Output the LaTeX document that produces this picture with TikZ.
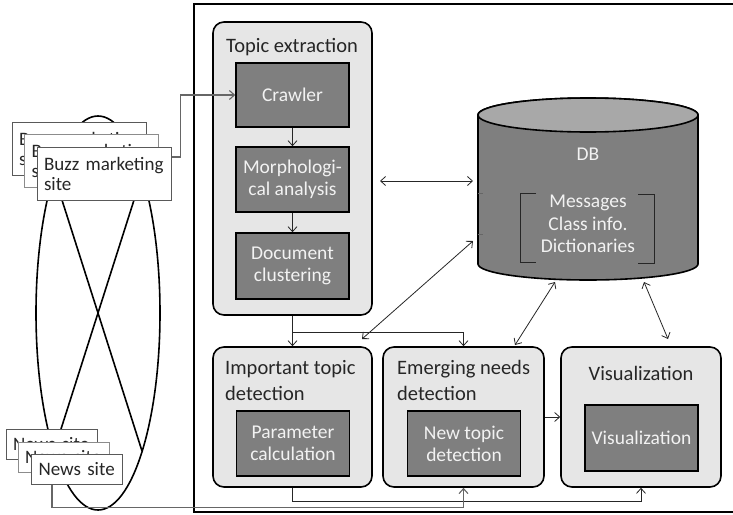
\documentclass[tikz,border=0pt]{standalone}
\usepackage{fontspec}
\setmainfont{Carlito}
\usetikzlibrary{arrows.meta}
\definecolor{lightfill}{RGB}{230,230,230}
\definecolor{darkfill}{RGB}{127,127,127}
\definecolor{dbtop}{RGB}{168,168,168}
\definecolor{txtdark}{RGB}{38,38,38}
\definecolor{txtlight}{RGB}{242,242,242}
\begin{document}
\begin{tikzpicture}[x=1pt,y=-1pt,
  container/.style={draw=black, line width=1.6pt, fill=lightfill, rounded corners=11pt, inner sep=0pt},
  inbox/.style={draw=black, line width=1.6pt, fill=darkfill, inner sep=0pt, text=txtlight,
    font=\fontsize{19.5}{22}\selectfont, align=center, minimum width=113pt, minimum height=65pt},
  title/.style={text=txtdark, font=\fontsize{20.5}{26}\selectfont, inner sep=0pt, align=left},
  buzzbox/.style={fill=white, line width=1pt, inner xsep=7pt, inner ysep=0pt, text=txtdark,
    font=\fontsize{19}{20}\selectfont, align=left, text width=120pt, minimum width=134pt, minimum height=53pt},
  newsbox/.style={fill=white, line width=1pt, inner xsep=7pt, inner ysep=0pt, text=txtdark,
    font=\fontsize{19}{20}\selectfont, align=left, text width=77pt, minimum width=91pt, minimum height=30pt},
  dbtext/.style={text=txtlight, font=\fontsize{19.5}{22.5}\selectfont, align=center, inner sep=0pt},
  tip/.tip={Straight Barb[length=5pt,width=9pt]},
  arr/.style={-tip, line width=0.8pt, draw=black!85},
  darr/.style={tip-tip, line width=0.8pt, draw=black!85},
  sitelink/.style={-tip, line width=1.1pt, draw=black!60},
]
\useasboundingbox (0,0) rectangle (733,514);

% outer frame (its right side lies beyond the picture)
\draw[line width=2.4pt] (760,4) -- (194,4) -- (194,512) -- (760,512);

% ellipse with cross
\draw[line width=1.6pt] (98,313) ellipse [x radius=62pt, y radius=197pt];
\draw[line width=1.6pt] (54,175) -- (142,451);
\draw[line width=1.6pt] (142,175) -- (54,451);

% buzz marketing sites
\node[buzzbox, draw=black!65] (buzz1) at (79,148.5) {Buzz marketing\\site};
\node[buzzbox, draw=black!45] (buzz2) at (91.5,161) {Buzz marketing\\site};
\node[buzzbox, draw=black!65] (buzz3) at (104,173.5) {Buzz marketing\\site};

% news sites
\node[newsbox, draw=black!65] (news1) at (51.5,444) {News site};
\node[newsbox, draw=black!45] (news2) at (63.5,457) {News site};
\node[newsbox, draw=black!65] (news3) at (77,469) {News site};

% topic extraction
\node[container, minimum width=159pt, minimum height=293pt] (topic) at (292.5,168.5) {};
\node[title, anchor=base] (ttopic) at (292,52) {Topic extraction};
\node[inbox, minimum height=64pt] (crawler) at (292.5,95) {Crawler};
\node[inbox] (morph) at (292.5,179.5) {Morphologi-\\cal analysis};
\node[inbox, minimum height=66pt] (doc) at (292.5,266) {Document\\clustering};

% bottom row
\node[container, minimum width=159pt, minimum height=140pt] (imp) at (292.5,417) {};
\node[title, anchor=north west] (timp) at (225,360) {Important topic\\detection};
\node[inbox] (param) at (293,443.5) {Parameter\\calculation};

\node[container, minimum width=161pt, minimum height=140pt] (emerg) at (463.5,417) {};
\node[title, anchor=north west] (temerg) at (397,360) {Emerging needs\\detection};
\node[inbox] (newt) at (464,443.5) {New topic\\detection};

\node[container, minimum width=160pt, minimum height=140pt] (vis) at (641,417) {};
\node[title, anchor=base] (tvis) at (641,380) {Visualization};
\node[inbox, minimum height=66pt] (visin) at (641.5,438) {Visualization};

% DB cylinder
\draw[line width=1.6pt, fill=darkfill] (478,115) -- (478,264)
  arc[start angle=180, end angle=360, x radius=110pt, y radius=16pt]
  -- (698,115)
  arc[start angle=0, end angle=180, x radius=110pt, y radius=17pt] -- cycle;
\draw[line width=1.6pt, fill=dbtop] (588,115) ellipse [x radius=110pt, y radius=17pt];
\draw[black!60, line width=0.8pt] (478,193) -- (483,193);
\draw[black!60, line width=0.8pt] (478,234) -- (483,234);
\node[dbtext] (dblabel) at (588,154) {DB};
\node[dbtext] (dbcontent) at (588,224) {Messages\\Class info.\\Dictionaries};
\draw[black!85, line width=1pt] (536,193) -- (520,193) -- (520,262) -- (536,262);
\draw[black!85, line width=1pt] (638,194) -- (654,194) -- (654,263) -- (638,263);

% connector end points
\coordinate (tE) at (380,181);
\coordinate (dbL1) at (473,181);
\coordinate (dbL2) at (473,241);
\coordinate (dbB1) at (555,282);
\coordinate (dbB2) at (644,282);
\coordinate (impTop) at (362,339);
\coordinate (emTop) at (515,345);
\coordinate (visTop) at (668,339);
\coordinate (j1) at (292.5,332);

% connectors
\draw[sitelink] ([yshift=16.5pt]buzz3.east) -- ++(9,0) |- (crawler.west);
\draw[arr] (crawler) -- (morph);
\draw[arr] (morph) -- (doc);
\draw[arr] (topic.south) -- (imp.north);
\draw[arr] (j1) -| (emerg.north);
\draw[darr] (tE) -- (dbL1);
\draw[darr] (dbL2) -- (impTop);
\draw[darr] (dbB1) -- (emTop);
\draw[darr] (dbB2) -- (visTop);
\draw[arr] (emerg) -- (vis);
\draw[arr] (imp.south) -- ++(0,14) -| (vis.south);
\draw[sitelink] ([xshift=-25pt]news3.south) -- ++(0,23) -| (emerg.south);
\end{tikzpicture}
\end{document}
